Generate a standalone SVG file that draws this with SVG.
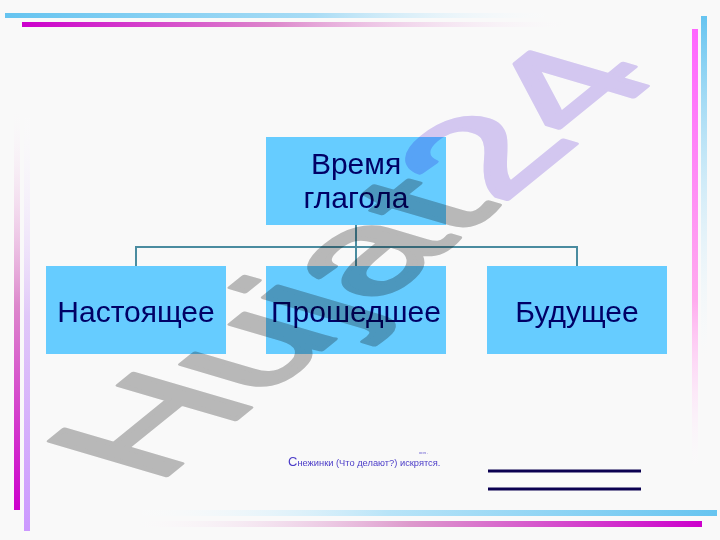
<svg xmlns="http://www.w3.org/2000/svg" width="720" height="540" viewBox="0 0 720 540">
<style>
.box{fill:#66ccff}
.lbl{font-family:"Liberation Sans",Arial,sans-serif;font-size:30px;fill:#000066;text-anchor:middle}
.conn{stroke:#4a8ca0;stroke-width:2;fill:none}
.wm{font-family:"Liberation Sans",Arial,sans-serif;font-size:200px;mix-blend-mode:multiply;stroke-width:6;stroke-linejoin:round}
.note{font-family:"Liberation Sans",Arial,sans-serif;fill:#4b3cc8}
</style>
<defs>
<linearGradient id="gTopC" x1="0" y1="0" x2="1" y2="0"><stop offset="0" stop-color="#66c4f0"/><stop offset="0.55" stop-color="#a8dcf5"/><stop offset="1" stop-color="#ffffff" stop-opacity="0"/></linearGradient>
<linearGradient id="gTopM" x1="0" y1="0" x2="1" y2="0"><stop offset="0" stop-color="#cc00cc"/><stop offset="0.45" stop-color="#dd88cc"/><stop offset="1" stop-color="#ffffff" stop-opacity="0"/></linearGradient>
<linearGradient id="gRightC" x1="0" y1="0" x2="0" y2="1"><stop offset="0" stop-color="#66c4f0"/><stop offset="1" stop-color="#ffffff" stop-opacity="0"/></linearGradient>
<linearGradient id="gRightM" x1="0" y1="0" x2="0" y2="1"><stop offset="0" stop-color="#ff66ff"/><stop offset="0.6" stop-color="#ffaaee"/><stop offset="1" stop-color="#ffffff" stop-opacity="0"/></linearGradient>
<linearGradient id="gLeftM" x1="0" y1="0" x2="0" y2="1"><stop offset="0" stop-color="#ffffff" stop-opacity="0"/><stop offset="0.5" stop-color="#dd88cc"/><stop offset="1" stop-color="#cc00cc"/></linearGradient>
<linearGradient id="gLeftL" x1="0" y1="0" x2="0" y2="1"><stop offset="0" stop-color="#ffffff" stop-opacity="0"/><stop offset="0.5" stop-color="#e0c8f8"/><stop offset="1" stop-color="#cc99ff"/></linearGradient>
<linearGradient id="gBotC" x1="0" y1="0" x2="1" y2="0"><stop offset="0" stop-color="#ffffff" stop-opacity="0"/><stop offset="0.45" stop-color="#b8e4f8"/><stop offset="1" stop-color="#66c4f0"/></linearGradient>
<linearGradient id="gBotM" x1="0" y1="0" x2="1" y2="0"><stop offset="0" stop-color="#ffffff" stop-opacity="0"/><stop offset="0.5" stop-color="#dd99cc"/><stop offset="1" stop-color="#cc00cc"/></linearGradient>
</defs>
<rect width="720" height="540" fill="#f9f9f9"/>
<g id="frame">
<rect x="5" y="13" width="560" height="5" fill="url(#gTopC)"/>
<rect x="22" y="22" width="560" height="5" fill="url(#gTopM)"/>
<rect x="701" y="16" width="6" height="360" fill="url(#gRightC)"/>
<rect x="692" y="29" width="6" height="450" fill="url(#gRightM)"/>
<rect x="14" y="100" width="6" height="410" fill="url(#gLeftM)"/>
<rect x="24" y="100" width="6" height="431" fill="url(#gLeftL)"/>
<rect x="120" y="510" width="597" height="6" fill="url(#gBotC)"/>
<rect x="120" y="521" width="582" height="6" fill="url(#gBotM)"/>
</g>
<g id="connectors">
<path class="conn" d="M356 225 V247 M136 247 H577 M136 246 V266 M356 247 V266 M577 246 V266"/>
</g>
<g id="node-root">
<rect class="box" x="266" y="137" width="180" height="88"/>
<text class="lbl" x="356" y="174">Время</text>
<text class="lbl" x="356" y="208">глагола</text>
</g>
<g id="node-present">
<rect class="box" x="46" y="266" width="180" height="88"/>
<text class="lbl" x="136" y="322">Настоящее</text>
</g>
<g id="node-past">
<rect class="box" x="266" y="266" width="180" height="88"/>
<text class="lbl" x="356" y="322">Прошедшее</text>
</g>
<g id="node-future">
<rect class="box" x="487" y="266" width="180" height="88"/>
<text class="lbl" x="577" y="322">Будущее</text>
</g>
<g id="note">
<text class="note" x="419" y="454" font-size="4" fill="#b0a8e0">ння .</text>
<text class="note" x="288" y="466" font-size="9.3"><tspan font-size="13">С</tspan>нежинки  (Что делают?) искрятся.</text>
<line x1="488" y1="471" x2="641" y2="471" stroke="#0a0050" stroke-width="3"/>
<line x1="488" y1="489" x2="641" y2="489" stroke="#0a0050" stroke-width="3"/>
</g>
<g id="watermark" transform="matrix(0.74,-0.60,0.85,0.25,155,485)">
<text class="wm" x="0" y="0"><tspan fill="#bdbdbd" stroke="#bdbdbd">Hujat</tspan><tspan fill="#d8ccf6" stroke="#d8ccf6">24</tspan></text>
</g>
</svg>
